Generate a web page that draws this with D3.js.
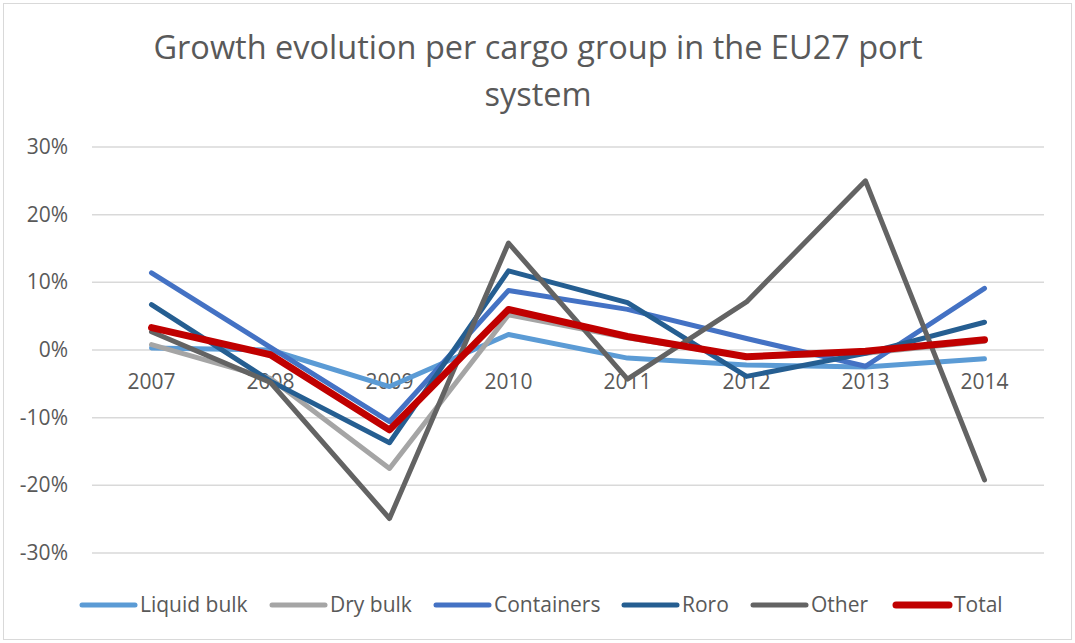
<!DOCTYPE html>
<html>
<head>
<meta charset="utf-8">
<script src="https://cdn.jsdelivr.net/npm/d3@7"></script>
<style>
  body { margin: 0; background: #fff; }
  #svgContainer { width: 1075px; height: 643px; }
</style>
</head>
<body>
<div id="svgContainer"></div>
<script>
// Chart data
const years = ["2007", "2008", "2009", "2010", "2011", "2012", "2013", "2014"];
const liquidBulk = [0.3, 0.0, -5.4, 2.3, -1.2, -2.2, -2.5, -1.3];
const dryBulk = [0.8, -4.2, -17.5, 5.2, 1.8, -1.0, -0.5, 1.3];
const containers = [11.4, 0.4, -10.6, 8.8, 6.0, 1.7, -2.4, 9.1];
const roro = [6.7, -4.6, -13.7, 11.7, 7.0, -3.9, -0.5, 4.1];
const other = [2.7, -4.8, -24.9, 15.8, -4.3, 7.1, 25.0, -19.2];
const total = [3.3, -0.7, -11.8, 6.0, 2.0, -1.0, -0.2, 1.5];
const yTicks = [30, 20, 10, 0, -10, -20, -30];
const seriesNames = ["Liquid bulk", "Dry bulk", "Containers", "Roro", "Other", "Total"];

const series = [
  { name: seriesNames[0], values: liquidBulk, color: "#5b9bd5", width: 5 },
  { name: seriesNames[1], values: dryBulk, color: "#a5a5a5", width: 5 },
  { name: seriesNames[2], values: containers, color: "#4472c4", width: 5 },
  { name: seriesNames[3], values: roro, color: "#255e91", width: 5 },
  { name: seriesNames[4], values: other, color: "#636363", width: 5 },
  { name: seriesNames[5], values: total, color: "#c00000", width: 7 }
];

const width = 1075;
const height = 643;
const font = "'Open Sans', sans-serif";

const svg = d3.select("#svgContainer").append("svg")
  .attr("width", width)
  .attr("height", height);

// outer frame
svg.append("rect")
  .attr("x", 3.5).attr("y", 3.5)
  .attr("width", width - 7).attr("height", height - 7)
  .attr("fill", "#fff")
  .attr("stroke", "#d9d9d9");

// title
const title = svg.append("text")
  .attr("text-anchor", "middle")
  .attr("font-family", font)
  .attr("font-size", "32.5px")
  .attr("fill", "#595959");
title.append("tspan").attr("x", 538).attr("y", 59).text("Growth evolution per cargo group in the EU27 port");
title.append("tspan").attr("x", 538).attr("y", 106).text("system");

const x = d3.scaleBand().domain(years).range([92, 1044]);
const y = d3.scaleLinear().domain([-30, 30]).range([553, 147]);

// gridlines
svg.append("g")
  .selectAll("line")
  .data(yTicks)
  .join("line")
  .attr("x1", 92).attr("x2", 1044)
  .attr("y1", d => y(d)).attr("y2", d => y(d))
  .attr("stroke", "#d9d9d9")
  .attr("stroke-width", 1.5);

// y axis labels
svg.append("g")
  .selectAll("text")
  .data(yTicks)
  .join("text")
  .attr("x", 68)
  .attr("y", d => y(d) + 7)
  .attr("text-anchor", "end")
  .attr("font-family", font)
  .attr("font-size", "21px")
  .attr("fill", "#595959")
  .text(d => d + "%");

// x axis labels sit just under the zero line
svg.append("g")
  .selectAll("text")
  .data(years)
  .join("text")
  .attr("x", d => x(d) + x.bandwidth() / 2)
  .attr("y", y(0) + 39)
  .attr("text-anchor", "middle")
  .attr("font-family", font)
  .attr("font-size", "21px")
  .attr("fill", "#595959")
  .text(d => d);

const line = d3.line()
  .x((d, i) => x(years[i]) + x.bandwidth() / 2)
  .y(d => y(d));

svg.append("g")
  .selectAll("path")
  .data(series)
  .join("path")
  .attr("d", d => line(d.values))
  .attr("fill", "none")
  .attr("stroke", d => d.color)
  .attr("stroke-width", d => d.width)
  .attr("stroke-linejoin", "round")
  .attr("stroke-linecap", "round");

// legend
const legendX = [82, 272, 436, 624, 753, 896];
const legend = svg.append("g");
series.forEach((s, i) => {
  legend.append("line")
    .attr("x1", legendX[i]).attr("x2", legendX[i] + 53)
    .attr("y1", 605).attr("y2", 605)
    .attr("stroke", s.color)
    .attr("stroke-width", s.width)
    .attr("stroke-linecap", "round");
  legend.append("text")
    .attr("x", legendX[i] + 58)
    .attr("y", 612)
    .attr("font-family", font)
    .attr("font-size", "21px")
    .attr("fill", "#595959")
    .text(s.name);
});
</script>
</body>
</html>
